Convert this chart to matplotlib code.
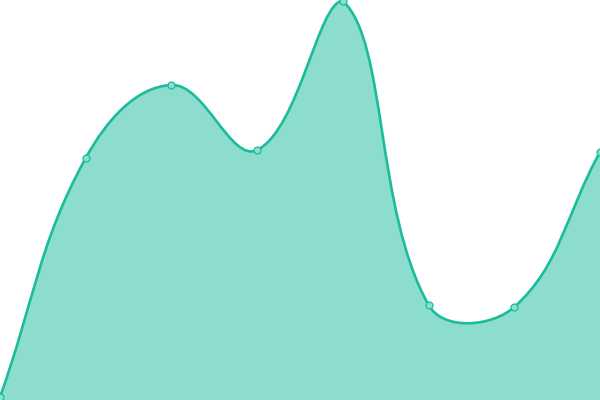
import numpy as np
import matplotlib
matplotlib.use("Agg")
import matplotlib.pyplot as plt
from matplotlib.path import Path
from matplotlib.patches import PathPatch

# valores (eje y de 0 a 400)
etiquetas = ["A", "B", "C", "D", "E", "F", "G", "H"]
valores = [3, 242, 315, 250, 399, 95, 93, 248]

color_linea = "#1abc9c"
color_relleno = "#1abc9c"
tension = 0.4

fig = plt.figure(figsize=(6, 4), dpi=100)
ax = fig.add_axes([0, 0, 1, 1])
ax.set_xlim(0, len(valores) - 1)
ax.set_ylim(0, 400)
ax.axis("off")

xs = np.arange(len(valores))
pts = ax.transData.transform(np.column_stack([xs, valores]))
x0, y0 = ax.transData.transform((0, 0))
x1, y1 = ax.transData.transform((len(valores) - 1, 400))


def puntos_control(p):
    n = len(p)
    cps = []
    for i in range(n):
        prev = p[max(i - 1, 0)]
        cur = p[i]
        nxt = p[min(i + 1, n - 1)]
        d01 = np.hypot(*(cur - prev))
        d12 = np.hypot(*(nxt - cur))
        tot = d01 + d12
        s01 = d01 / tot if tot else 0
        s12 = d12 / tot if tot else 0
        fa = tension * s01
        fb = tension * s12
        c1 = cur - fa * (nxt - prev)
        c2 = cur + fb * (nxt - prev)
        c1 = np.clip(c1, [x0, y0], [x1, y1])
        c2 = np.clip(c2, [x0, y0], [x1, y1])
        cps.append((c1, c2))
    return cps


cps = puntos_control(pts)
verts = [pts[0]]
codes = [Path.MOVETO]
for i in range(len(pts) - 1):
    verts += [cps[i][1], cps[i + 1][0], pts[i + 1]]
    codes += [Path.CURVE4] * 3

inv = ax.transData.inverted()
verts_d = inv.transform(np.array(verts))

relleno_v = np.vstack([verts_d, [[xs[-1], 0], [xs[0], 0], verts_d[0]]])
relleno_c = codes + [Path.LINETO, Path.LINETO, Path.CLOSEPOLY]
ax.add_patch(PathPatch(Path(relleno_v, relleno_c), facecolor=color_relleno,
                       alpha=0.5, edgecolor="none"))
ax.add_patch(PathPatch(Path(verts_d, codes), facecolor="none",
                       edgecolor=color_linea, linewidth=1.9, clip_on=False))
ax.plot(xs, valores, "o", markersize=5, markerfacecolor="#8ae0cf",
        markeredgecolor=color_linea, markeredgewidth=0.9, clip_on=False)

fig.savefig("out.png", dpi=100)
